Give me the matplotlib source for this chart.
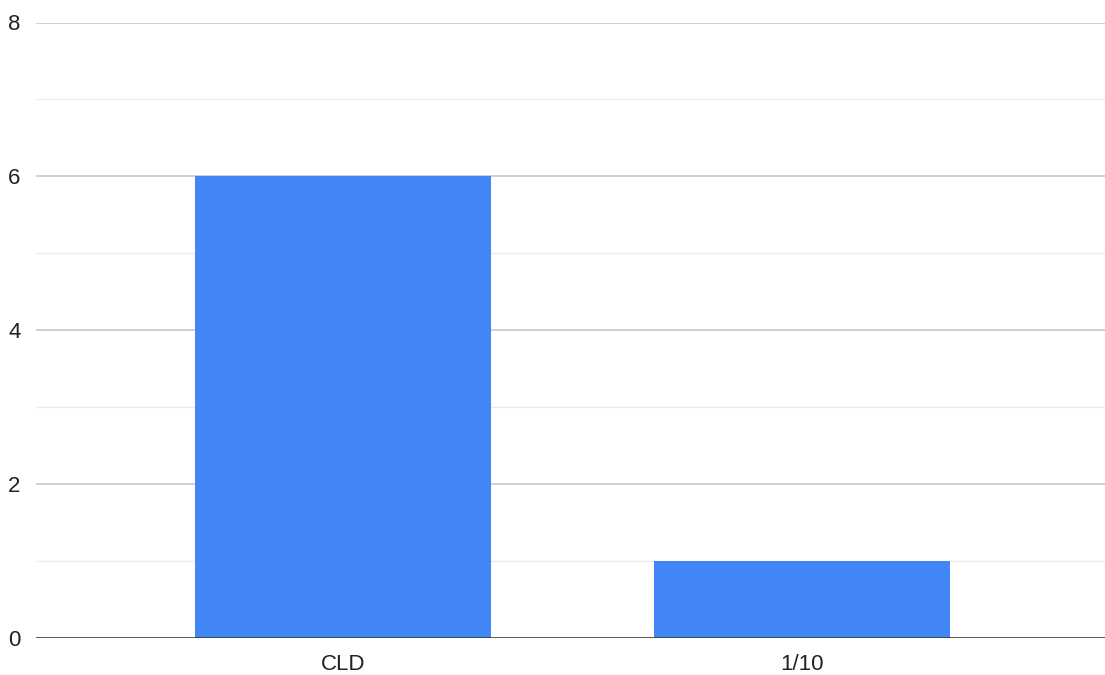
import matplotlib
matplotlib.use("Agg")
import matplotlib.pyplot as plt

categories = ["CLD", "1/10"]
values = [6, 1]
y_ticks = [0, 2, 4, 6, 8]
y_minor = [1, 3, 5, 7]

plt.rcParams['font.family'] = ['Liberation Sans', 'DejaVu Sans']

fig = plt.figure(figsize=(11.05, 6.75), dpi=100)
ax = fig.add_axes([36 / 1105, 37.5 / 675, 1069 / 1105, 615 / 675])

x = list(range(len(categories)))
ax.bar(x, values, width=0.645, color="#4285F4", zorder=3)

ax.set_xlim(-0.67, len(categories) - 1 + 0.66)
ax.set_ylim(0, 8)
ax.set_yticks(y_ticks)
ax.set_yticks(y_minor, minor=True)
ax.set_xticks(x)
ax.set_xticklabels(categories)

ax.grid(axis="y", which="major", color="#cccccc", linewidth=1.3, zorder=0)
ax.grid(axis="y", which="minor", color="#ebebeb", linewidth=1.0, zorder=0)
ax.axhline(0, color="#333333", linewidth=1.8, zorder=4)

for s in ax.spines.values():
    s.set_visible(False)
ax.tick_params(axis="both", which="both", length=0, labelsize=16, colors="#222222")
ax.tick_params(axis="y", pad=11)
ax.tick_params(axis="x", pad=12)

fig.savefig("out.png", dpi=100)
